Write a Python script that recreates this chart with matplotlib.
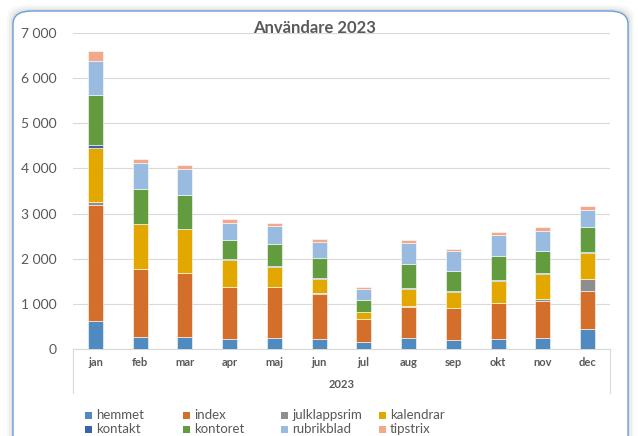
import numpy as np
import matplotlib
matplotlib.use('Agg')
import matplotlib.pyplot as plt
from matplotlib.patches import FancyBboxPatch, Rectangle
from matplotlib.ticker import FuncFormatter

plt.rcParams['font.family'] = ['Lato', 'DejaVu Sans']

months = ['jan', 'feb', 'mar', 'apr', 'maj', 'jun', 'jul', 'aug', 'sep', 'okt', 'nov', 'dec']
series_names = ['hemmet', 'index', 'julklappsrim', 'kalendrar',
                'kontakt', 'kontoret', 'rubrikblad', 'tipstrix']

hemmet      = [630, 275, 260, 220, 240, 215, 160, 245, 200, 215, 237, 437]
index       = [2560, 1490, 1420, 1150, 1130, 1010, 495, 695, 700, 800, 820, 842]
julklappsrim = [60, 15, 10, 10, 10, 10, 5, 10, 10, 10, 50, 266]
kalendrar   = [1210, 990, 960, 590, 445, 315, 150, 375, 355, 485, 555, 577]
kontakt     = [60, 10, 10, 20, 15, 20, 5, 20, 15, 20, 25, 20]
kontoret    = [1110, 770, 745, 430, 495, 450, 270, 545, 455, 520, 490, 550]
rubrikblad  = [740, 570, 575, 380, 390, 360, 240, 455, 430, 475, 445, 377]
tipstrix    = [240, 95, 95, 70, 60, 55, 45, 60, 60, 65, 75, 104]

colors = ['#4F8AC0', '#D46E2B', '#8E8E8E', '#E2A800',
          '#3B62AE', '#639B3F', '#9ABBE0', '#F2A88B']

data = [hemmet, index, julklappsrim, kalendrar, kontakt, kontoret, rubrikblad, tipstrix]

W, H = 638, 436
fig = plt.figure(figsize=(W / 100, H / 100), dpi=100)

# chart frame with a soft shadow
fx, fy, fw, fh = 13, -20, 615, 445
for k, a in [(6, 0.05), (4, 0.08), (2, 0.12)]:
    sh = FancyBboxPatch(((fx - k) / W, fy / H), (fw + 2 * k) / W, (fh + k) / H,
                        boxstyle='round,pad=0,rounding_size=0.03',
                        transform=fig.transFigure, facecolor='#808080', edgecolor='none',
                        alpha=a, zorder=-3)
    fig.add_artist(sh)
frame = FancyBboxPatch((fx / W, fy / H), fw / W, fh / H,
                       boxstyle='round,pad=0,rounding_size=0.03',
                       transform=fig.transFigure, facecolor='white', edgecolor='#6A9FD8',
                       linewidth=1.0, zorder=-2)
fig.add_artist(frame)

ax = fig.add_axes([73 / W, (H - 349) / H, 537 / W, 316 / H])
ax.patch.set_alpha(0)

x = np.arange(len(months))
bottom = np.zeros(len(months))
for name, vals, c in zip(series_names, data, colors):
    vals = np.array(vals, dtype=float)
    ax.bar(x, vals, width=0.34, bottom=bottom, color=c, edgecolor='white',
           linewidth=0.4, zorder=3, label=name)
    bottom += vals

ax.set_ylim(0, 7000)
ax.set_xlim(-0.5, 11.5)
ax.set_yticks(np.arange(0, 7001, 1000))
ax.yaxis.set_major_formatter(FuncFormatter(lambda v, p: f'{int(v):,}'.replace(',', ' ')))
ax.grid(axis='y', color='#D9D9D9', linewidth=0.8, zorder=0)
ax.tick_params(axis='y', length=0, pad=12, labelsize=10, labelcolor='#595959')
ax.tick_params(axis='x', length=0, pad=6, labelsize=8, labelcolor='#595959')
ax.set_xticks(x)
ax.set_xticklabels(months, fontweight='bold')
for s in ['top', 'right', 'left']:
    ax.spines[s].set_visible(False)
ax.spines['bottom'].set_color('#D9D9D9')
ax.spines['bottom'].set_linewidth(0.8)

# multi-level category box
depth = 44 / 316 * 7000
for xv in (-0.5, 11.5):
    ax.plot([xv, xv], [0, -depth], color='#D9D9D9', linewidth=0.8, clip_on=False)
ax.text(5.5, -35 / 316 * 7000, '2023', ha='center', va='center', fontsize=8,
        fontweight='bold', color='#595959')

fig.text(315 / W, 1 - 28 / H, 'Användare 2023', ha='center', va='center',
         fontsize=12, fontweight='bold', color='#595959')

# legend in equal-width columns, two rows
for i, (name, c) in enumerate(zip(series_names, colors)):
    col, row = i % 4, i // 4
    lx = 85 + col * 98
    ly = 415 + row * 14
    fig.add_artist(Rectangle((lx / W, 1 - (ly + 4) / H), 7 / W, 7 / H,
                             transform=fig.transFigure, facecolor=c, edgecolor='none'))
    fig.text((lx + 11) / W, 1 - ly / H, name, ha='left', va='center',
             fontsize=9.5, color='#595959')

fig.savefig('out.png', dpi=100)
